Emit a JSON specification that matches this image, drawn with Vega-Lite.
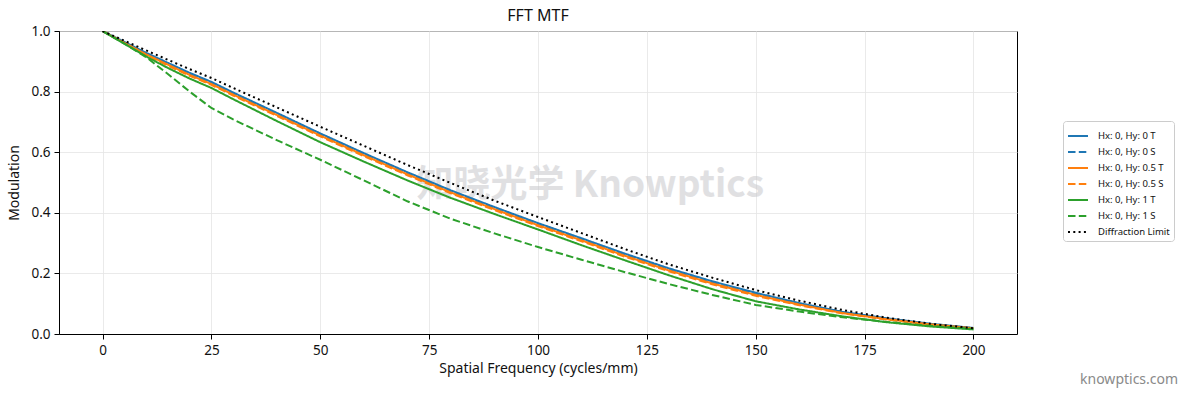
{
  "$schema": "https://vega.github.io/schema/vega-lite/v6.json",
  "width": 958,
  "height": 303,
  "autosize": {"type": "none"},
  "padding": {"left": 59, "top": 31, "right": 174, "bottom": 63},
  "background": "white",
  "title": {"text": "FFT MTF", "fontSize": 16, "fontWeight": "normal", "font": "Noto Sans", "color": "#111", "offset": 0},
  "datasets": {
    "mtf": [
      {"s":"Hx: 0, Hy: 0 T","f":0,"m":1.000},{"s":"Hx: 0, Hy: 0 T","f":5,"m":0.964},{"s":"Hx: 0, Hy: 0 T","f":10,"m":0.928},{"s":"Hx: 0, Hy: 0 T","f":15,"m":0.895},{"s":"Hx: 0, Hy: 0 T","f":20,"m":0.862},{"s":"Hx: 0, Hy: 0 T","f":25,"m":0.832},{"s":"Hx: 0, Hy: 0 T","f":30,"m":0.797},{"s":"Hx: 0, Hy: 0 T","f":40,"m":0.730},{"s":"Hx: 0, Hy: 0 T","f":50,"m":0.662},{"s":"Hx: 0, Hy: 0 T","f":60,"m":0.597},{"s":"Hx: 0, Hy: 0 T","f":70,"m":0.534},{"s":"Hx: 0, Hy: 0 T","f":80,"m":0.474},{"s":"Hx: 0, Hy: 0 T","f":90,"m":0.419},{"s":"Hx: 0, Hy: 0 T","f":100,"m":0.366},{"s":"Hx: 0, Hy: 0 T","f":110,"m":0.316},{"s":"Hx: 0, Hy: 0 T","f":120,"m":0.265},{"s":"Hx: 0, Hy: 0 T","f":130,"m":0.217},{"s":"Hx: 0, Hy: 0 T","f":140,"m":0.174},{"s":"Hx: 0, Hy: 0 T","f":150,"m":0.136},{"s":"Hx: 0, Hy: 0 T","f":160,"m":0.102},{"s":"Hx: 0, Hy: 0 T","f":170,"m":0.073},{"s":"Hx: 0, Hy: 0 T","f":180,"m":0.052},{"s":"Hx: 0, Hy: 0 T","f":190,"m":0.034},{"s":"Hx: 0, Hy: 0 T","f":200,"m":0.020},
      {"s":"Hx: 0, Hy: 0 S","f":0,"m":1.000},{"s":"Hx: 0, Hy: 0 S","f":5,"m":0.962},{"s":"Hx: 0, Hy: 0 S","f":10,"m":0.925},{"s":"Hx: 0, Hy: 0 S","f":15,"m":0.891},{"s":"Hx: 0, Hy: 0 S","f":20,"m":0.858},{"s":"Hx: 0, Hy: 0 S","f":25,"m":0.827},{"s":"Hx: 0, Hy: 0 S","f":30,"m":0.792},{"s":"Hx: 0, Hy: 0 S","f":40,"m":0.725},{"s":"Hx: 0, Hy: 0 S","f":50,"m":0.657},{"s":"Hx: 0, Hy: 0 S","f":60,"m":0.592},{"s":"Hx: 0, Hy: 0 S","f":70,"m":0.529},{"s":"Hx: 0, Hy: 0 S","f":80,"m":0.469},{"s":"Hx: 0, Hy: 0 S","f":90,"m":0.414},{"s":"Hx: 0, Hy: 0 S","f":100,"m":0.361},{"s":"Hx: 0, Hy: 0 S","f":110,"m":0.311},{"s":"Hx: 0, Hy: 0 S","f":120,"m":0.260},{"s":"Hx: 0, Hy: 0 S","f":130,"m":0.212},{"s":"Hx: 0, Hy: 0 S","f":140,"m":0.169},{"s":"Hx: 0, Hy: 0 S","f":150,"m":0.131},{"s":"Hx: 0, Hy: 0 S","f":160,"m":0.099},{"s":"Hx: 0, Hy: 0 S","f":170,"m":0.070},{"s":"Hx: 0, Hy: 0 S","f":180,"m":0.049},{"s":"Hx: 0, Hy: 0 S","f":190,"m":0.032},{"s":"Hx: 0, Hy: 0 S","f":200,"m":0.019},
      {"s":"Hx: 0, Hy: 0.5 T","f":0,"m":1.000},{"s":"Hx: 0, Hy: 0.5 T","f":5,"m":0.961},{"s":"Hx: 0, Hy: 0.5 T","f":10,"m":0.923},{"s":"Hx: 0, Hy: 0.5 T","f":15,"m":0.889},{"s":"Hx: 0, Hy: 0.5 T","f":20,"m":0.855},{"s":"Hx: 0, Hy: 0.5 T","f":25,"m":0.825},{"s":"Hx: 0, Hy: 0.5 T","f":30,"m":0.790},{"s":"Hx: 0, Hy: 0.5 T","f":40,"m":0.723},{"s":"Hx: 0, Hy: 0.5 T","f":50,"m":0.655},{"s":"Hx: 0, Hy: 0.5 T","f":60,"m":0.590},{"s":"Hx: 0, Hy: 0.5 T","f":70,"m":0.527},{"s":"Hx: 0, Hy: 0.5 T","f":80,"m":0.467},{"s":"Hx: 0, Hy: 0.5 T","f":90,"m":0.412},{"s":"Hx: 0, Hy: 0.5 T","f":100,"m":0.359},{"s":"Hx: 0, Hy: 0.5 T","f":110,"m":0.309},{"s":"Hx: 0, Hy: 0.5 T","f":120,"m":0.258},{"s":"Hx: 0, Hy: 0.5 T","f":130,"m":0.210},{"s":"Hx: 0, Hy: 0.5 T","f":140,"m":0.167},{"s":"Hx: 0, Hy: 0.5 T","f":150,"m":0.129},{"s":"Hx: 0, Hy: 0.5 T","f":160,"m":0.097},{"s":"Hx: 0, Hy: 0.5 T","f":170,"m":0.069},{"s":"Hx: 0, Hy: 0.5 T","f":180,"m":0.049},{"s":"Hx: 0, Hy: 0.5 T","f":190,"m":0.032},{"s":"Hx: 0, Hy: 0.5 T","f":200,"m":0.019},
      {"s":"Hx: 0, Hy: 0.5 S","f":0,"m":1.000},{"s":"Hx: 0, Hy: 0.5 S","f":5,"m":0.960},{"s":"Hx: 0, Hy: 0.5 S","f":10,"m":0.921},{"s":"Hx: 0, Hy: 0.5 S","f":15,"m":0.886},{"s":"Hx: 0, Hy: 0.5 S","f":20,"m":0.852},{"s":"Hx: 0, Hy: 0.5 S","f":25,"m":0.822},{"s":"Hx: 0, Hy: 0.5 S","f":30,"m":0.787},{"s":"Hx: 0, Hy: 0.5 S","f":40,"m":0.720},{"s":"Hx: 0, Hy: 0.5 S","f":50,"m":0.652},{"s":"Hx: 0, Hy: 0.5 S","f":60,"m":0.587},{"s":"Hx: 0, Hy: 0.5 S","f":70,"m":0.524},{"s":"Hx: 0, Hy: 0.5 S","f":80,"m":0.464},{"s":"Hx: 0, Hy: 0.5 S","f":90,"m":0.409},{"s":"Hx: 0, Hy: 0.5 S","f":100,"m":0.356},{"s":"Hx: 0, Hy: 0.5 S","f":110,"m":0.306},{"s":"Hx: 0, Hy: 0.5 S","f":120,"m":0.255},{"s":"Hx: 0, Hy: 0.5 S","f":130,"m":0.207},{"s":"Hx: 0, Hy: 0.5 S","f":140,"m":0.164},{"s":"Hx: 0, Hy: 0.5 S","f":150,"m":0.126},{"s":"Hx: 0, Hy: 0.5 S","f":160,"m":0.095},{"s":"Hx: 0, Hy: 0.5 S","f":170,"m":0.068},{"s":"Hx: 0, Hy: 0.5 S","f":180,"m":0.048},{"s":"Hx: 0, Hy: 0.5 S","f":190,"m":0.031},{"s":"Hx: 0, Hy: 0.5 S","f":200,"m":0.018},
      {"s":"Hx: 0, Hy: 1 T","f":0,"m":1.000},{"s":"Hx: 0, Hy: 1 T","f":5,"m":0.958},{"s":"Hx: 0, Hy: 1 T","f":10,"m":0.916},{"s":"Hx: 0, Hy: 1 T","f":15,"m":0.878},{"s":"Hx: 0, Hy: 1 T","f":20,"m":0.843},{"s":"Hx: 0, Hy: 1 T","f":25,"m":0.812},{"s":"Hx: 0, Hy: 1 T","f":30,"m":0.775},{"s":"Hx: 0, Hy: 1 T","f":40,"m":0.703},{"s":"Hx: 0, Hy: 1 T","f":50,"m":0.633},{"s":"Hx: 0, Hy: 1 T","f":60,"m":0.569},{"s":"Hx: 0, Hy: 1 T","f":70,"m":0.507},{"s":"Hx: 0, Hy: 1 T","f":80,"m":0.449},{"s":"Hx: 0, Hy: 1 T","f":90,"m":0.396},{"s":"Hx: 0, Hy: 1 T","f":100,"m":0.345},{"s":"Hx: 0, Hy: 1 T","f":110,"m":0.293},{"s":"Hx: 0, Hy: 1 T","f":120,"m":0.243},{"s":"Hx: 0, Hy: 1 T","f":130,"m":0.194},{"s":"Hx: 0, Hy: 1 T","f":140,"m":0.148},{"s":"Hx: 0, Hy: 1 T","f":150,"m":0.108},{"s":"Hx: 0, Hy: 1 T","f":160,"m":0.081},{"s":"Hx: 0, Hy: 1 T","f":170,"m":0.058},{"s":"Hx: 0, Hy: 1 T","f":180,"m":0.039},{"s":"Hx: 0, Hy: 1 T","f":190,"m":0.025},{"s":"Hx: 0, Hy: 1 T","f":200,"m":0.015},
      {"s":"Hx: 0, Hy: 1 S","f":0,"m":1.000},{"s":"Hx: 0, Hy: 1 S","f":5,"m":0.958},{"s":"Hx: 0, Hy: 1 S","f":10,"m":0.914},{"s":"Hx: 0, Hy: 1 S","f":15,"m":0.858},{"s":"Hx: 0, Hy: 1 S","f":20,"m":0.800},{"s":"Hx: 0, Hy: 1 S","f":25,"m":0.746},{"s":"Hx: 0, Hy: 1 S","f":30,"m":0.708},{"s":"Hx: 0, Hy: 1 S","f":40,"m":0.640},{"s":"Hx: 0, Hy: 1 S","f":50,"m":0.575},{"s":"Hx: 0, Hy: 1 S","f":60,"m":0.507},{"s":"Hx: 0, Hy: 1 S","f":70,"m":0.438},{"s":"Hx: 0, Hy: 1 S","f":80,"m":0.380},{"s":"Hx: 0, Hy: 1 S","f":90,"m":0.332},{"s":"Hx: 0, Hy: 1 S","f":100,"m":0.287},{"s":"Hx: 0, Hy: 1 S","f":110,"m":0.245},{"s":"Hx: 0, Hy: 1 S","f":120,"m":0.204},{"s":"Hx: 0, Hy: 1 S","f":130,"m":0.165},{"s":"Hx: 0, Hy: 1 S","f":140,"m":0.129},{"s":"Hx: 0, Hy: 1 S","f":150,"m":0.096},{"s":"Hx: 0, Hy: 1 S","f":160,"m":0.074},{"s":"Hx: 0, Hy: 1 S","f":170,"m":0.055},{"s":"Hx: 0, Hy: 1 S","f":180,"m":0.040},{"s":"Hx: 0, Hy: 1 S","f":190,"m":0.027},{"s":"Hx: 0, Hy: 1 S","f":200,"m":0.017},
      {"s":"Diffraction Limit","f":0,"m":1.000},{"s":"Diffraction Limit","f":5,"m":0.968},{"s":"Diffraction Limit","f":10,"m":0.936},{"s":"Diffraction Limit","f":15,"m":0.905},{"s":"Diffraction Limit","f":20,"m":0.874},{"s":"Diffraction Limit","f":25,"m":0.845},{"s":"Diffraction Limit","f":30,"m":0.812},{"s":"Diffraction Limit","f":40,"m":0.748},{"s":"Diffraction Limit","f":50,"m":0.684},{"s":"Diffraction Limit","f":60,"m":0.621},{"s":"Diffraction Limit","f":70,"m":0.558},{"s":"Diffraction Limit","f":80,"m":0.498},{"s":"Diffraction Limit","f":90,"m":0.440},{"s":"Diffraction Limit","f":100,"m":0.386},{"s":"Diffraction Limit","f":110,"m":0.333},{"s":"Diffraction Limit","f":120,"m":0.280},{"s":"Diffraction Limit","f":130,"m":0.230},{"s":"Diffraction Limit","f":140,"m":0.186},{"s":"Diffraction Limit","f":150,"m":0.145},{"s":"Diffraction Limit","f":160,"m":0.110},{"s":"Diffraction Limit","f":170,"m":0.079},{"s":"Diffraction Limit","f":180,"m":0.054},{"s":"Diffraction Limit","f":190,"m":0.034},{"s":"Diffraction Limit","f":200,"m":0.019}
    ],
    "marks": [
      {"label": "知晓光学 Knowptics", "f": 112, "m": 0.49}
    ],
    "site": [
      {"label": "knowptics.com", "f": 247, "m": -0.165}
    ]
  },
  "layer": [
    {
      "data": {"name": "marks"},
      "mark": {"type": "text", "font": "Noto Sans CJK SC", "fontSize": 37, "fontWeight": "bold", "color": "#c8c8cc", "opacity": 0.55, "align": "center", "baseline": "middle"},
      "encoding": {
        "x": {"field": "f", "type": "quantitative", "scale": {"domain": [-10, 210], "nice": false, "zero": false}},
        "y": {"field": "m", "type": "quantitative", "scale": {"domain": [0, 1], "nice": false}},
        "text": {"field": "label"}
      }
    },
    {
      "data": {"name": "mtf"},
      "mark": {"type": "line", "strokeWidth": 2, "strokeCap": "butt", "clip": true},
      "encoding": {
        "x": {
          "field": "f", "type": "quantitative",
          "scale": {"domain": [-10, 210], "nice": false, "zero": false},
          "axis": {"values": [0, 25, 50, 75, 100, 125, 150, 175, 200], "title": "Spatial Frequency (cycles/mm)", "format": "d"}
        },
        "y": {
          "field": "m", "type": "quantitative",
          "scale": {"domain": [0, 1], "nice": false},
          "axis": {"values": [0, 0.2, 0.4, 0.6, 0.8, 1.0], "title": "Modulation", "format": ".1f"}
        },
        "color": {
          "field": "s", "type": "nominal", "title": null,
          "scale": {
            "domain": ["Hx: 0, Hy: 0 T", "Hx: 0, Hy: 0 S", "Hx: 0, Hy: 0.5 T", "Hx: 0, Hy: 0.5 S", "Hx: 0, Hy: 1 T", "Hx: 0, Hy: 1 S", "Diffraction Limit"],
            "range": ["#1f77b4", "#1f77b4", "#ff7f0e", "#ff7f0e", "#2ca02c", "#2ca02c", "#000000"]
          }
        },
        "strokeDash": {
          "field": "s", "type": "nominal", "title": null,
          "scale": {
            "domain": ["Hx: 0, Hy: 0 T", "Hx: 0, Hy: 0 S", "Hx: 0, Hy: 0.5 T", "Hx: 0, Hy: 0.5 S", "Hx: 0, Hy: 1 T", "Hx: 0, Hy: 1 S", "Diffraction Limit"],
            "range": [[1, 0], [7.5, 3.3], [1, 0], [7.5, 3.3], [1, 0], [7.5, 3.3], [2, 3.3]]
          }
        }
      }
    },
    {
      "data": {"name": "site"},
      "mark": {"type": "text", "font": "Noto Sans", "fontSize": 14, "color": "#8a8a8a", "align": "right", "baseline": "alphabetic"},
      "encoding": {
        "x": {"field": "f", "type": "quantitative"},
        "y": {"field": "m", "type": "quantitative"},
        "text": {"field": "label"}
      }
    }
  ],
  "config": {
    "view": {"stroke": "#000000", "strokeWidth": 1},
    "axis": {
      "grid": true,
      "gridColor": "#e5e5e5",
      "gridWidth": 0.8,
      "domainColor": "#000000",
      "domainWidth": 1,
      "tickColor": "#000000",
      "tickSize": 5,
      "labelFont": "Noto Sans",
      "labelFontSize": 13.5,
      "labelColor": "#111111",
      "labelPadding": 4,
      "titleFont": "Noto Sans",
      "titleFontSize": 14,
      "titleFontWeight": "normal",
      "titleColor": "#111111"
    },
    "axisX": {"titlePadding": 5},
    "axisY": {"titlePadding": 9},
    "legend": {
      "orient": "none",
      "legendX": 1004,
      "legendY": 90,
      "strokeColor": "#cccccc",
      "fillColor": "#ffffff",
      "cornerRadius": 3,
      "padding": 4,
      "labelFont": "Noto Sans",
      "labelFontSize": 9.5,
      "labelColor": "#111111",
      "symbolType": "stroke",
      "symbolSize": 400,
      "symbolStrokeWidth": 2,
      "rowPadding": -1.5,
      "labelOffset": 9
    }
  }
}
